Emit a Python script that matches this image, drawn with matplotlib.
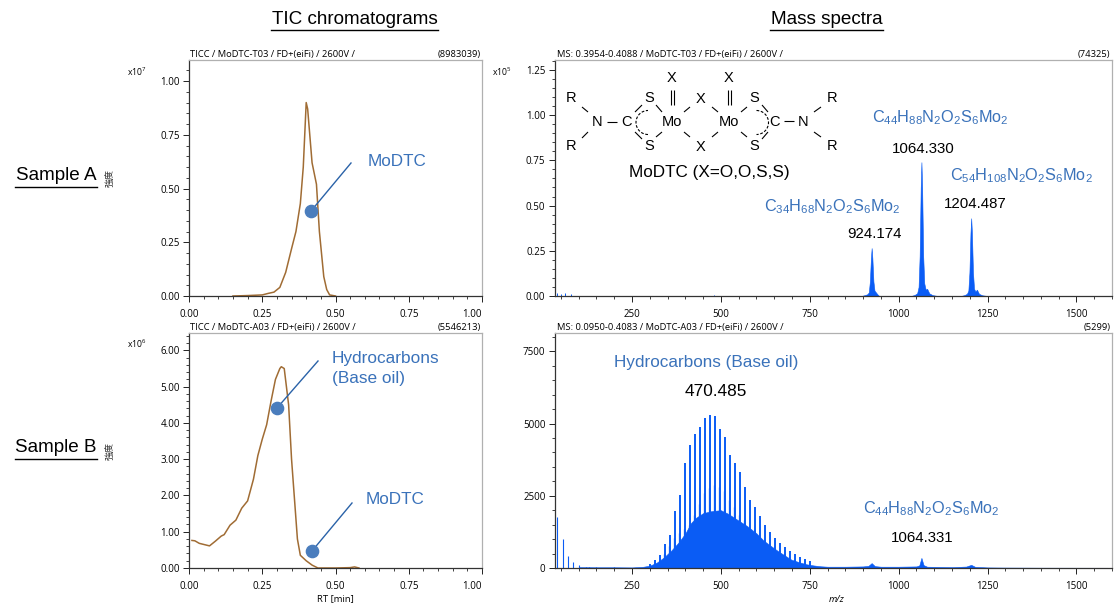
import matplotlib
matplotlib.use('Agg')
import matplotlib.pyplot as plt
from matplotlib.patches import Arc
from matplotlib.ticker import MultipleLocator, FormatStrFormatter

# ── Data ────────────────────────────────────────────────────────────────
tic_a_rt  = [0.15, 0.20, 0.25, 0.27, 0.29, 0.31, 0.33, 0.35, 0.365, 0.38, 0.39, 0.395,
             0.40, 0.405, 0.42, 0.435, 0.445, 0.46, 0.47, 0.48, 0.50]
tic_a_int = [0.0, 0.002, 0.005, 0.012, 0.018, 0.04, 0.11, 0.22, 0.30, 0.43, 0.60, 0.75,
             0.90, 0.87, 0.62, 0.52, 0.30, 0.09, 0.03, 0.005, 0.0]

tic_b_rt  = [0.01, 0.02, 0.035, 0.05, 0.07, 0.09, 0.11, 0.12, 0.14, 0.16, 0.18, 0.20, 0.22,
             0.235, 0.25, 0.265, 0.28, 0.295, 0.31, 0.315, 0.325, 0.34, 0.35, 0.36, 0.37,
             0.38, 0.40, 0.42, 0.44, 0.50, 0.55, 0.565, 0.58]
tic_b_int = [0.76, 0.75, 0.68, 0.65, 0.61, 0.74, 0.88, 0.92, 1.18, 1.32, 1.65, 1.85, 2.45,
             3.10, 3.55, 3.95, 4.60, 5.20, 5.50, 5.55, 5.50, 4.50, 3.00, 1.90, 0.80,
             0.35, 0.20, 0.08, 0.0, 0.0, 0.01, 0.03, 0.0]

# sample A spectrum, x1e5
ms_a_mz  = [895, 905, 912, 916, 919, 922, 924, 926, 929, 932, 936, 940, 945,
            1035, 1045, 1052, 1056, 1059, 1062, 1064, 1066, 1069, 1072, 1076, 1080, 1086, 1095, 1110,
            1175, 1185, 1192, 1196, 1199, 1202, 1204, 1206, 1209, 1212, 1216, 1220, 1226, 1235, 1250]
ms_a_int = [0.0, 0.005, 0.01, 0.02, 0.08, 0.21, 0.265, 0.21, 0.08, 0.03, 0.02, 0.01, 0.0,
            0.0, 0.006, 0.015, 0.05, 0.22, 0.60, 0.74, 0.60, 0.22, 0.07, 0.035, 0.04, 0.015, 0.005, 0.0,
            0.0, 0.005, 0.012, 0.03, 0.13, 0.35, 0.43, 0.35, 0.13, 0.04, 0.025, 0.035, 0.012, 0.004, 0.0]
ms_a_low_mz  = [40, 50, 62, 78, 480]
ms_a_low_int = [0.015, 0.012, 0.018, 0.012, 0.004]

# sample B spectrum
ms_b_hump_mz  = [100, 150, 200, 250, 280, 300, 320, 340, 360, 380, 400, 416, 430, 450, 470, 480, 500, 520, 540,
                 560, 574, 600, 620, 642, 660, 680, 698, 720, 740, 760, 780, 800, 850, 900, 915, 924, 933, 950,
                 1000, 1050, 1058, 1064, 1070, 1080, 1150, 1190, 1204, 1215, 1250, 1300, 1400, 1587]
ms_b_hump_int = [30, 25, 25, 20, 40, 80, 190, 370, 600, 870, 1200, 1560, 1740, 1900, 1960, 1980, 2000, 1880, 1720,
                 1560, 1450, 1200, 950, 750, 590, 430, 290, 200, 130, 90, 60, 45, 45, 55, 75, 170, 65, 45,
                 45, 55, 90, 350, 100, 45, 30, 50, 110, 40, 20, 15, 10, 8]
ms_b_tall_mz  = [302, 316, 330, 344, 358, 372, 386, 400, 414, 428, 442, 456, 470, 484, 498, 512, 526, 540,
                 554, 568, 582, 596, 610, 624, 638, 652, 666, 680, 694, 708, 722, 736, 750]
ms_b_tall_int = [150, 280, 450, 830, 1150, 1980, 2540, 3650, 4250, 4650, 4880, 5200, 5290, 5280, 4800, 4550, 3900, 3650,
                 3330, 2800, 2350, 2100, 1800, 1480, 1250, 1050, 860, 740, 600, 480, 370, 300, 230]
ms_b_mid_mz   = [340, 354, 368, 382, 396, 410, 424, 438, 452, 466, 480, 494, 508, 522, 536, 550, 564, 578, 592, 606]
ms_b_mid_int  = [500, 750, 1050, 1200, 1350, 1500, 1850, 2200, 2600, 2780, 2890, 2800, 2650, 2350, 2100, 1850, 1650, 1400, 1250, 1080]
ms_b_low_mz   = [40, 55, 70, 85, 100, 120, 130, 150, 200]
ms_b_low_int  = [1750, 1000, 400, 220, 120, 50, 50, 40, 30]

BLUE_TEXT  = '#3a72ba'
SPEC_BLUE  = '#0a5cf5'
BROWN      = '#a06c34'
DOT        = '#4a7dbd'
LEADER     = '#2a62a8'
W, H       = 1120, 606
# ────────────────────────────────────────────────────────────────────────

plt.rcParams['font.family'] = ['Liberation Sans', 'DejaVu Sans']
plt.rcParams['mathtext.default'] = 'regular'
TICK_FONT = ['Open Sans', 'DejaVu Sans']


def make_axes(fig, box, xlim, ylim, xmaj, xmin, ymaj, ymin, xfmt, yfmt, head_l, head_r):
    left, top, right, bottom = box
    ax = fig.add_axes([left / W, 1 - bottom / H, (right - left) / W, (bottom - top) / H])
    ax.set_xlim(*xlim)
    ax.set_ylim(*ylim)
    ax.xaxis.set_major_locator(MultipleLocator(xmaj))
    ax.xaxis.set_minor_locator(MultipleLocator(xmin))
    ax.yaxis.set_major_locator(MultipleLocator(ymaj))
    ax.yaxis.set_minor_locator(MultipleLocator(ymin))
    ax.xaxis.set_major_formatter(FormatStrFormatter(xfmt))
    ax.yaxis.set_major_formatter(FormatStrFormatter(yfmt))
    ax.tick_params(which='major', length=4, width=0.7, labelsize=7, pad=2.5, color='#222222')
    ax.tick_params(axis='x', which='major', pad=5.5)
    ax.tick_params(which='minor', length=2, width=0.6, color='#222222')
    fig.canvas.draw()
    for lab in ax.get_xticklabels() + ax.get_yticklabels():
        lab.set_family(TICK_FONT)
    ax.text(0.004, 1.006, head_l, transform=ax.transAxes, fontsize=6.75, family=TICK_FONT, va='bottom', ha='left')
    ax.text(0.997, 1.006, head_r, transform=ax.transAxes, fontsize=6.75, family=TICK_FONT, va='bottom', ha='right')
    for s in ('top', 'right'):
        ax.spines[s].set_color('#b0b0b0')
        ax.spines[s].set_linewidth(0.9)
    for s in ('left', 'bottom'):
        ax.spines[s].set_color('#333333')
        ax.spines[s].set_linewidth(0.9)
    return ax


fig = plt.figure(figsize=(W / 100, H / 100), dpi=100)

ax_a = make_axes(fig, (189, 60, 482, 296), (0, 1), (0, 1.098), 0.25, 0.05, 0.25, 0.05, '%.2f', '%.2f',
                 'TICC / MoDTC-T03 / FD+(eiFi) / 2600V /', '(8983039)')
ax_b = make_axes(fig, (189, 333, 482, 568), (0, 1), (0, 6.48), 0.25, 0.05, 1, 0.2, '%.2f', '%.2f',
                 'TICC / MoDTC-A03 / FD+(eiFi) / 2600V /', '(5546213)')
ax_c = make_axes(fig, (554.5, 60, 1112, 296), (32, 1600), (0, 1.305), 250, 50, 0.25, 0.05, '%d', '%.2f',
                 'MS: 0.3954-0.4088 / MoDTC-T03 / FD+(eiFi) / 2600V /', '(74325)')
ax_d = make_axes(fig, (554.5, 333, 1112, 568), (32, 1600), (0, 8137), 250, 50, 2500, 500, '%d', '%d',
                 'MS: 0.0950-0.4083 / MoDTC-A03 / FD+(eiFi) / 2600V /', '(5299)')

# the last RT label sits inside the frame in the original
for ax in (ax_a, ax_b):
    ax.set_xticks([0, 0.25, 0.5, 0.75, 1.0])
    ax.get_xticklabels()[-1].set_ha('right')

ax_a.plot(tic_a_rt, tic_a_int, color=BROWN, lw=1.1)
ax_b.plot(tic_b_rt, tic_b_int, color=BROWN, lw=1.1)

ax_c.fill_between(ms_a_mz, ms_a_int, 0, color=SPEC_BLUE, lw=0.4)
ax_c.vlines(ms_a_low_mz, 0, ms_a_low_int, color=SPEC_BLUE, lw=0.7)

ax_d.fill_between(ms_b_hump_mz, ms_b_hump_int, 0, color=SPEC_BLUE, lw=0.4)
ax_d.vlines(ms_b_tall_mz, 0, ms_b_tall_int, color=SPEC_BLUE, lw=1.4)
ax_d.vlines(ms_b_mid_mz, 0, ms_b_mid_int, color=SPEC_BLUE, lw=0.9)
ax_d.vlines(ms_b_low_mz, 0, ms_b_low_int, color=SPEC_BLUE, lw=0.8)

# ── Overlay in picture pixels for all the annotation work ──
ov = fig.add_axes([0, 0, 1, 1], zorder=10)
ov.set_xlim(0, W)
ov.set_ylim(H, 0)
ov.axis('off')
ov.patch.set_alpha(0)


def label(x, y, s, size=11, color='black', **kw):
    ov.text(x, y, s, fontsize=size, color=color, ha=kw.pop('ha', 'center'), va=kw.pop('va', 'center'), **kw)


def underlined(x0, x1, y, s, size, drop):
    label((x0 + x1) / 2, y, s, size=size)
    ov.plot([x0, x1], [y + drop, y + drop], color='black', lw=1.0)


underlined(271, 438, 20, 'TIC chromatograms', 13.6, 10)
underlined(770, 883, 20, 'Mass spectra', 13.6, 10)
underlined(15, 97, 176, 'Sample A', 13.6, 11)
underlined(15, 97, 448, 'Sample B', 13.6, 11)

for y in (178, 451):
    label(110, y, '強度', size=6.5, rotation=90, family=['Noto Sans CJK JP', 'DejaVu Sans'], color='#333333')

for x, y, exp in ((127, 72, '7'), (492, 72, '5'), (127, 344, '6')):
    label(x, y, f'x10$^{exp}$', size=6.2, ha='left', family=TICK_FONT)

label(335, 599, 'RT [min]', size=6.8, family=TICK_FONT)
label(837, 599, 'm/z', size=6.8, family=TICK_FONT, style='italic')

# chromatogram callouts
for dot, end in (((311, 211), (351, 163)), ((277, 408), (318, 361)), ((312, 551), (352, 503))):
    ov.plot([dot[0], end[0]], [dot[1], end[1]], color=LEADER, lw=1.0, zorder=2)
    ov.plot(*dot, 'o', ms=8.8, color=DOT, zorder=3)
label(397.5, 161, 'MoDTC', size=12.3, color=BLUE_TEXT)
label(332, 359, 'Hydrocarbons', size=12.4, color=BLUE_TEXT, ha='left')
label(332, 379, '(Base oil)', size=12.4, color=BLUE_TEXT, ha='left')
label(395, 499, 'MoDTC', size=12.3, color=BLUE_TEXT)

# peak labels, spectra
f34 = 'C$_{34}$H$_{68}$N$_{2}$O$_{2}$S$_{6}$Mo$_{2}$'
f44 = 'C$_{44}$H$_{88}$N$_{2}$O$_{2}$S$_{6}$Mo$_{2}$'
f54 = 'C$_{54}$H$_{108}$N$_{2}$O$_{2}$S$_{6}$Mo$_{2}$'
label(832, 207, f34, size=11.7, color=BLUE_TEXT)
label(940, 118, f44, size=11.7, color=BLUE_TEXT)
label(1021, 176, f54, size=11.7, color=BLUE_TEXT)
label(875, 234, '924.174', size=10.8)
label(923, 149, '1064.330', size=10.8)
label(975, 204, '1204.487', size=10.8)
label(706, 362, 'Hydrocarbons (Base oil)', size=12.3, color=BLUE_TEXT)
label(716, 391, '470.485', size=12.4)
label(931, 509, f44, size=11.7, color=BLUE_TEXT)
label(922, 538, '1064.331', size=10.8)

# MoDTC structure, coordinates in px from the crop
atoms = [('R', 571, 98), ('R', 571, 146), ('N', 597, 122), ('C', 627, 122), ('S', 649, 98), ('S', 649, 146),
         ('Mo', 672, 122), ('Mo', 729, 122), ('X', 672, 78), ('X', 729, 78), ('X', 701, 99), ('X', 701, 147),
         ('S', 754, 98), ('S', 754, 146), ('C', 774, 122), ('N', 803, 122), ('R', 832, 98), ('R', 832, 146)]
for s, x, y in atoms:
    label(x, y, s, size=10.5)
label(709, 173, 'MoDTC (X=O,O,S,S)', size=12.3)

bonds = [(582, 107, 588, 112), (582, 138, 588, 132), (607, 122, 617, 122),
         (635, 112, 642, 105), (635, 132, 642, 139),
         (656, 105, 662, 112), (656, 137, 662, 132),
         (671, 90, 671, 105), (674, 90, 674, 105), (728, 90, 728, 105), (731, 90, 731, 105),
         (684, 112, 690, 107), (684, 132, 690, 137), (712, 107, 718, 112), (712, 137, 718, 132),
         (741, 112, 747, 107), (741, 132, 747, 137),
         (762, 105, 768, 112), (762, 139, 768, 132),
         (784, 121, 794, 121), (814, 112, 821, 107), (814, 132, 821, 137)]
for x0, y0, x1, y1 in bonds:
    ov.plot([x0, x1], [y0, y1], color='black', lw=0.8, solid_capstyle='butt')

ov.add_patch(Arc((648, 122.5), 24, 24, theta1=90, theta2=270, color='black', lw=0.8, ls=(0, (2.5, 1.5))))
ov.add_patch(Arc((756.5, 122.5), 24, 24, theta1=-90, theta2=90, color='black', lw=0.8, ls=(0, (2.5, 1.5))))

plt.savefig('out.png', dpi=100)
plt.close(fig)
